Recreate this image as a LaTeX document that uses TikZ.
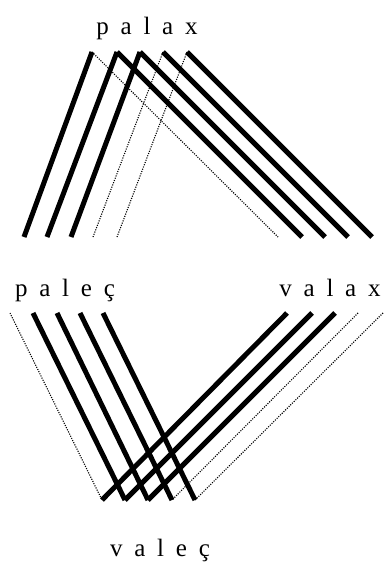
\documentclass[tikz,border=0pt]{standalone}
\usepackage{fontspec}
\setmainfont{Liberation Serif}
\newfontfamily\spacedfont[LetterSpace=47]{Liberation Serif}

\tikzset{
	strand/.style={line width=5pt},
	gap/.style={line width=1.1pt, dash pattern=on 1.1pt off 1.3pt},
	word/.style={font=\spacedfont\fontsize{25}{30}\selectfont, inner sep=0pt, anchor=base},
}

\begin{document}
\begin{tikzpicture}[x=1pt,y=-1pt]
	\useasboundingbox (0,0) rectangle (390,572);

	% upper figure
	\foreach \i/\x in {1/92,2/117,3/140,4/163,5/187}
		\coordinate (top\i) at (\x,52);
	\foreach \i/\x in {1/24,2/47,3/71,4/93,5/117}
		\coordinate (lft\i) at (\x,237);
	\foreach \i/\x in {1/278,2/302,3/325,4/348,5/372}
		\coordinate (rgt\i) at (\x,237);
	\draw[gap] (top1) -- (rgt1);
	\draw[gap] (top4) -- (lft4);
	\draw[gap] (top5) -- (lft5);
	\draw[strand] (top1) -- (lft1);
	\draw[strand] (top2) -- (lft2);
	\draw[strand] (top3) -- (lft3);
	\draw[strand] (top2) -- (rgt2);
	\draw[strand] (top3) -- (rgt3);
	\draw[strand] (top4) -- (rgt4);
	\draw[strand] (top5) -- (rgt5);
	\node[word] (palax) at (147,35) {palax};

	% lower figure
	\foreach \i/\x in {1/10,2/33,3/57,4/80,5/103}
		\coordinate (ltop\i) at (\x,313);
	\foreach \i/\x in {1/287,2/312,3/335,4/358,5/383}
		\coordinate (rtop\i) at (\x,313);
	\foreach \i/\x in {1/102,2/125,3/148,4/172,5/195}
		\coordinate (bot\i) at (\x,500);
	\draw[gap] (ltop1) -- (bot1);
	\draw[gap] (rtop4) -- (bot4);
	\draw[gap] (rtop5) -- (bot5);
	\draw[strand] (ltop2) -- (bot2);
	\draw[strand] (ltop3) -- (bot3);
	\draw[strand] (ltop4) -- (bot4);
	\draw[strand] (ltop5) -- (bot5);
	\draw[strand] (rtop1) -- (bot1);
	\draw[strand] (rtop2) -- (bot2);
	\draw[strand] (rtop3) -- (bot3);
	\node[word] (palec) at (65,296) {paleç};
	\node[word] (valax) at (330,296) {valax};
	\node[word] (valec) at (160,556) {valeç};
\end{tikzpicture}
\end{document}
